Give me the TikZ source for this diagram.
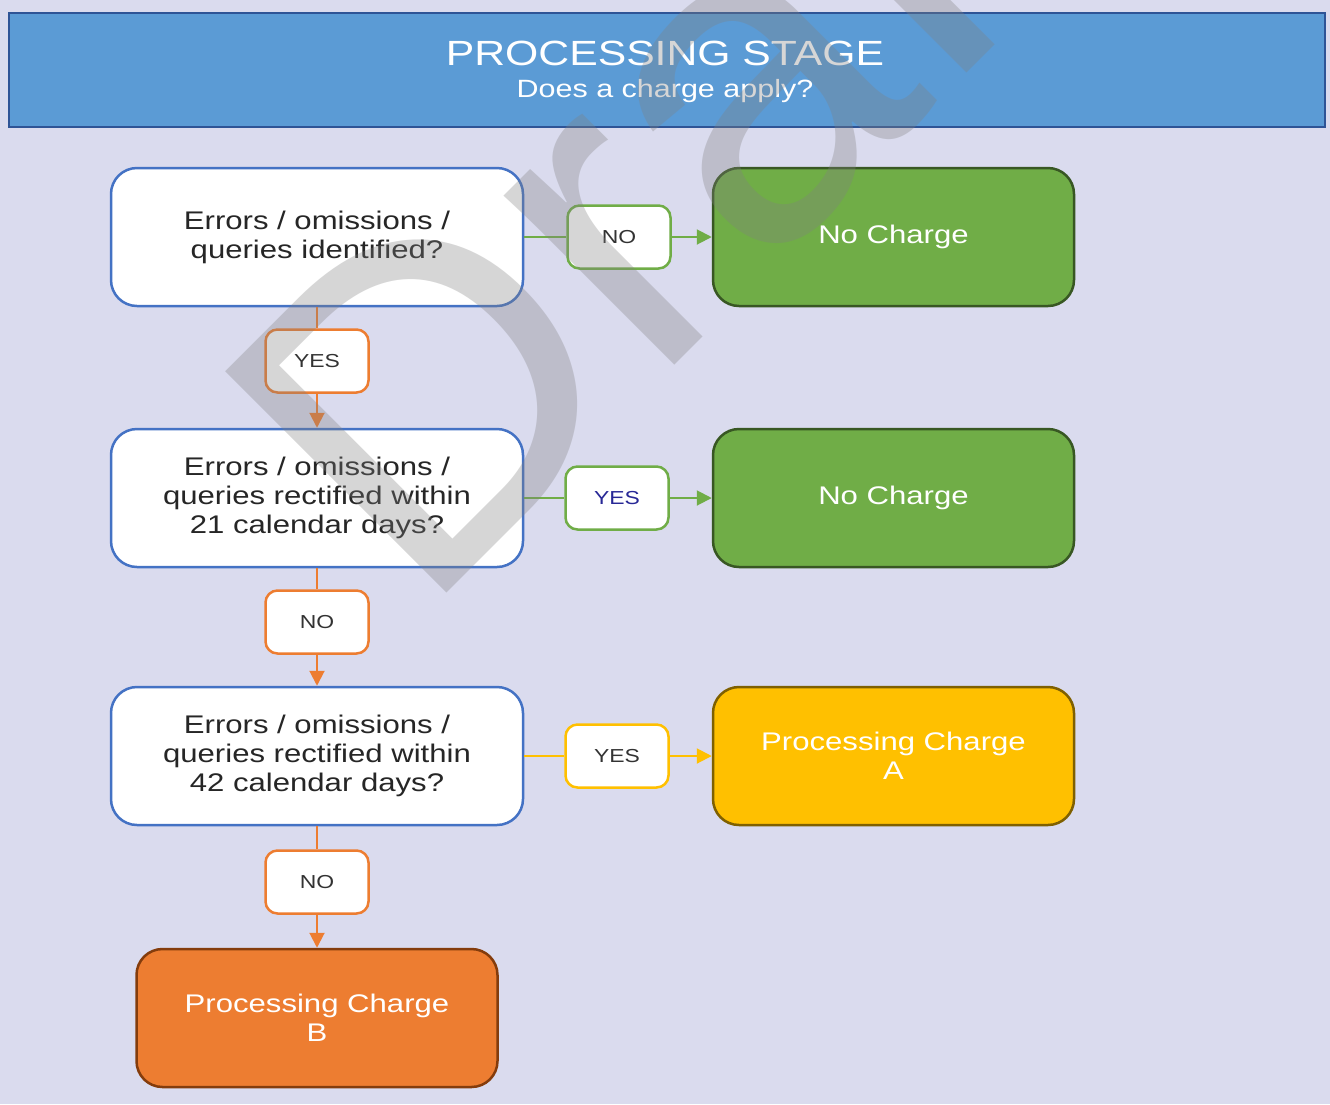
\documentclass[tikz,border=0pt]{standalone}
\usepackage{fontspec}
\setmainfont{Liberation Sans}[FakeStretch=1.22]
\newfontfamily\wmfont{Liberation Sans}
\usetikzlibrary{positioning}
\usetikzlibrary{arrows.meta}
\definecolor{bgpage}{RGB}{218,219,238}
\definecolor{hdrfill}{RGB}{91,155,213}
\definecolor{hdrline}{RGB}{46,84,150}
\definecolor{qblue}{RGB}{68,114,196}
\definecolor{lgreen}{RGB}{112,173,71}
\definecolor{greendark}{RGB}{56,87,35}
\definecolor{lyellow}{RGB}{255,192,0}
\definecolor{yellowdark}{RGB}{127,96,0}
\definecolor{lorange}{RGB}{237,125,49}
\definecolor{orangedark}{RGB}{132,60,12}
\definecolor{txtdark}{RGB}{38,38,38}
\definecolor{txtgray}{RGB}{51,51,51}
\definecolor{yesblue}{RGB}{40,40,150}

\begin{document}
\begin{tikzpicture}[x=1pt,y=-1pt,
header/.style={rectangle, draw=hdrline, fill=hdrfill, line width=2.5pt, minimum width=1316pt, minimum height=114pt},
titletext/.style={align=center, text=white, inner sep=0pt, font=\fontsize{25}{32}\selectfont},
qnode/.style={rectangle, rounded corners=26pt, draw=qblue, fill=white, line width=2.5pt, minimum width=412pt, minimum height=138pt, align=center, text=txtdark, font=\fontsize{25.5}{29}\selectfont},
lblnode/.style={rectangle, rounded corners=12pt, fill=white, line width=2.5pt, minimum width=103pt, minimum height=63pt, text=txtgray, font=\fontsize{18.8}{22}\selectfont},
endnode/.style={rectangle, rounded corners=26pt, line width=2.5pt, minimum width=361pt, minimum height=138pt, align=center, text=white, font=\fontsize{25.5}{29}\selectfont},
link/.style={line width=2pt},
arr/.style={link, -{Triangle[length=15pt,width=15pt]}},
wmark/.style={anchor=base west, inner sep=0pt, rotate=45, text=gray, text opacity=0.32, font=\wmfont\fontsize{455}{455}\selectfont},
]
\fill[bgpage] (0,0) rectangle (1330,1104);
\useasboundingbox (0,0) rectangle (1330,1104);

%Header
\node[header] (hdr) at (667,70) {};
\node[titletext] (ttl) at (665,72) {{\fontsize{35}{32}\selectfont PROCESSING STAGE}\\Does a charge apply?};

%Questions
\node[qnode]                   (q1) at (317,237)      {Errors / omissions /\\queries identified?};
\node[lblnode, draw=lorange]   (yes1) [below=21pt of q1] {YES};
\node[qnode]                   (q2) [below=34pt of yes1] {Errors / omissions /\\queries rectified within\\21 calendar days?};
\node[lblnode, draw=lorange]   (no2) [below=21pt of q2] {NO};
\node[qnode]                   (q3) [below=31pt of no2] {Errors / omissions /\\queries rectified within\\42 calendar days?};
\node[lblnode, draw=lorange]   (no3) [below=23pt of q3] {NO};
\node[endnode, fill=lorange, draw=orangedark] (pcb) [below=33pt of no3] {Processing Charge\\B};

%Outcomes
\node[lblnode, draw=lgreen]    (no1) [right=42pt of q1] {NO};
\node[endnode, fill=lgreen, draw=greendark]   (nc1) [right=40pt of no1] {No Charge};
\node[lblnode, draw=lgreen, text=yesblue] (yes2) [right=40pt of q2] {YES};
\node[endnode, fill=lgreen, draw=greendark]   (nc2) [right=42pt of yes2] {No Charge};
\node[lblnode, draw=lyellow]   (yes3) [right=40pt of q3] {YES};
\node[endnode, fill=lyellow, draw=yellowdark] (pca) [right=42pt of yes3] {Processing Charge\\A};

%Lines
\draw[link, lorange] (q1) -- (yes1);
\draw[arr, lorange] (yes1) -- (q2);
\draw[link, lorange] (q2) -- (no2);
\draw[arr, lorange] (no2) -- (q3);
\draw[link, lorange] (q3) -- (no3);
\draw[arr, lorange] (no3) -- (pcb);
\draw[link, lgreen] (q1) -- (no1);
\draw[arr, lgreen] (no1) -- (nc1);
\draw[link, lgreen] (q2) -- (yes2);
\draw[arr, lgreen] (yes2) -- (nc2);
\draw[link, lyellow] (q3) -- (yes3);
\draw[arr, lyellow] (yes3) -- (pca);

%Watermark
\node[wmark] (wm) at (420,620) {Draft};
\end{tikzpicture}
\end{document}
